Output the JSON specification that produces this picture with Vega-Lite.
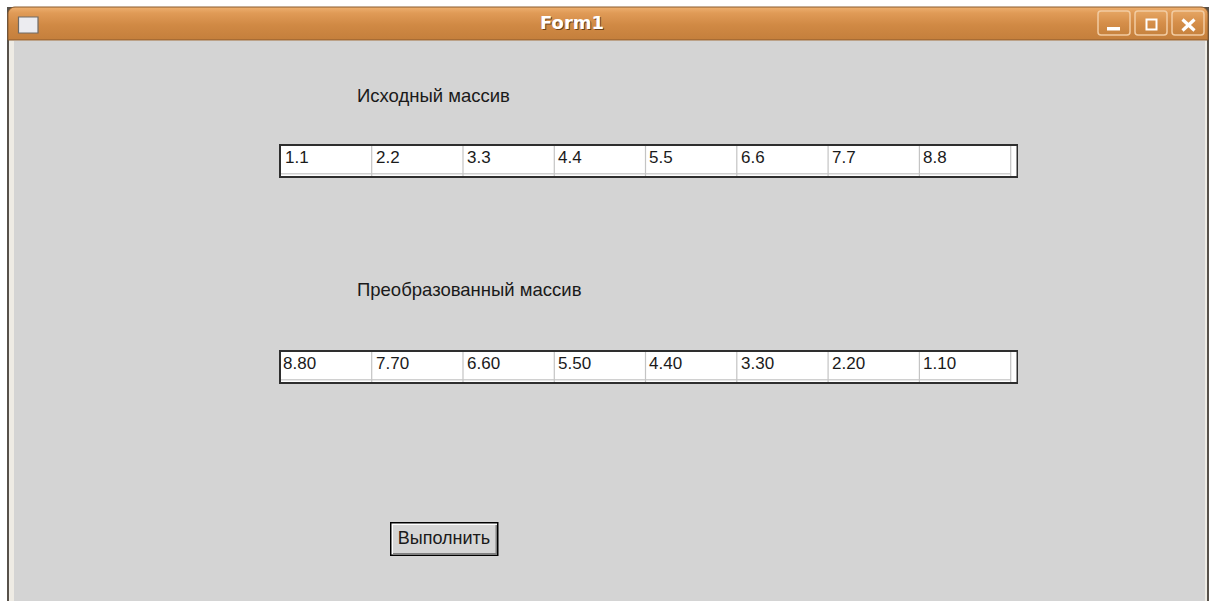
{
  "$schema": "https://vega.github.io/schema/vega-lite/v6.json",
  "width": 1212,
  "height": 601,
  "autosize": {"type": "fit", "contains": "padding"},
  "padding": 0,
  "background": "#ffffff",
  "config": {"view": {"stroke": null}},
  "datasets": {
    "rects": [
      {"x": 7, "x2": 1209, "y": 7, "y2": 601, "c": "#57514a"},
      {"x": 9, "x2": 1207, "y": 40, "y2": 601, "c": "#eeebe4"},
      {"x": 14, "x2": 1205, "y": 41, "y2": 601, "c": "#d4d4d4"},
      {"x": 279, "x2": 1018, "y": 144, "y2": 178, "c": "#2e2e2e"},
      {"x": 281, "x2": 1016.5, "y": 146, "y2": 176, "c": "#ffffff"},
      {"x": 281, "x2": 1011, "y": 173, "y2": 174.5, "c": "#d0d0d0"},
      {"x": 371.1, "x2": 372.3, "y": 146, "y2": 176, "c": "#c4c4c4"},
      {"x": 462.4, "x2": 463.6, "y": 146, "y2": 176, "c": "#c4c4c4"},
      {"x": 553.7, "x2": 554.9, "y": 146, "y2": 176, "c": "#c4c4c4"},
      {"x": 644.9, "x2": 646.1, "y": 146, "y2": 176, "c": "#c4c4c4"},
      {"x": 736.2, "x2": 737.4, "y": 146, "y2": 176, "c": "#c4c4c4"},
      {"x": 827.5, "x2": 828.7, "y": 146, "y2": 176, "c": "#c4c4c4"},
      {"x": 918.8, "x2": 920, "y": 146, "y2": 176, "c": "#c4c4c4"},
      {"x": 1010.1, "x2": 1011.3, "y": 146, "y2": 176, "c": "#c4c4c4"},
      {"x": 279, "x2": 1018, "y": 350, "y2": 384, "c": "#2e2e2e"},
      {"x": 281, "x2": 1016.5, "y": 352, "y2": 382, "c": "#ffffff"},
      {"x": 281, "x2": 1011, "y": 379, "y2": 380.5, "c": "#d0d0d0"},
      {"x": 371.1, "x2": 372.3, "y": 352, "y2": 382, "c": "#c4c4c4"},
      {"x": 462.4, "x2": 463.6, "y": 352, "y2": 382, "c": "#c4c4c4"},
      {"x": 553.7, "x2": 554.9, "y": 352, "y2": 382, "c": "#c4c4c4"},
      {"x": 644.9, "x2": 646.1, "y": 352, "y2": 382, "c": "#c4c4c4"},
      {"x": 736.2, "x2": 737.4, "y": 352, "y2": 382, "c": "#c4c4c4"},
      {"x": 827.5, "x2": 828.7, "y": 352, "y2": 382, "c": "#c4c4c4"},
      {"x": 918.8, "x2": 920, "y": 352, "y2": 382, "c": "#c4c4c4"},
      {"x": 1010.1, "x2": 1011.3, "y": 352, "y2": 382, "c": "#c4c4c4"},
      {"x": 390, "x2": 498.5, "y": 522, "y2": 556, "c": "#000000"},
      {"x": 391.5, "x2": 497, "y": 523.5, "y2": 554.5, "c": "#ffffff"},
      {"x": 393, "x2": 497, "y": 525, "y2": 554.5, "c": "#808080"},
      {"x": 393, "x2": 495.5, "y": 525, "y2": 553, "c": "#d6d6d6"}
    ],
    "titlebar": [{"x": 8, "x2": 1208, "y": 7, "y2": 40}],
    "winbtns": [
      {"x": 1098, "x2": 1130, "y": 11, "y2": 35},
      {"x": 1135, "x2": 1167, "y": 11, "y2": 35},
      {"x": 1172, "x2": 1204, "y": 11, "y2": 35}
    ],
    "glyphs": [
      {"x": 1107, "x2": 1120, "y": 27, "y2": 30.5, "c": "#ffffff"}
    ],
    "icon": [{"x": 18.5, "x2": 38, "y": 17, "y2": 33}],
    "maxbox": [{"x": 1146.5, "x2": 1156.5, "y": 19.5, "y2": 29.5}],
    "closex": [
      {"x": 1182.5, "x2": 1194.5, "y": 19.5, "y2": 30.5},
      {"x": 1194.5, "x2": 1182.5, "y": 19.5, "y2": 30.5}
    ],
    "title": [{"x": 572, "y": 23.5, "t": "Form1"}],
    "labels": [
      {"x": 357, "y": 96, "t": "Исходный массив"},
      {"x": 357, "y": 290, "t": "Преобразованный массив"}
    ],
    "cells": [
      {"x": 285, "y": 157.5, "t": "1.1"},
      {"x": 376, "y": 157.5, "t": "2.2"},
      {"x": 467, "y": 157.5, "t": "3.3"},
      {"x": 558, "y": 157.5, "t": "4.4"},
      {"x": 649, "y": 157.5, "t": "5.5"},
      {"x": 741, "y": 157.5, "t": "6.6"},
      {"x": 832, "y": 157.5, "t": "7.7"},
      {"x": 923, "y": 157.5, "t": "8.8"},
      {"x": 283, "y": 363.5, "t": "8.80"},
      {"x": 376, "y": 363.5, "t": "7.70"},
      {"x": 467, "y": 363.5, "t": "6.60"},
      {"x": 558, "y": 363.5, "t": "5.50"},
      {"x": 649, "y": 363.5, "t": "4.40"},
      {"x": 741, "y": 363.5, "t": "3.30"},
      {"x": 832, "y": 363.5, "t": "2.20"},
      {"x": 923, "y": 363.5, "t": "1.10"}
    ],
    "btntext": [{"x": 444, "y": 539, "t": "Выполнить"}]
  },
  "encoding": {
    "x": {"field": "x", "type": "quantitative", "scale": {"domain": [0, 1212], "nice": false, "zero": false}, "axis": null},
    "y": {"field": "y", "type": "quantitative", "scale": {"domain": [0, 601], "nice": false, "zero": false, "reverse": true}, "axis": null}
  },
  "layer": [
    {
      "data": {"name": "rects"},
      "mark": {"type": "rect"},
      "encoding": {
        "x2": {"field": "x2"},
        "y2": {"field": "y2"},
        "color": {"field": "c", "type": "nominal", "scale": null}
      }
    },
    {
      "data": {"name": "titlebar"},
      "mark": {
        "type": "rect",
        "cornerRadiusTopLeft": 7,
        "cornerRadiusTopRight": 7,
        "stroke": "#8a5a2c",
        "strokeWidth": 1,
        "color": {"gradient": "linear", "x1": 0, "y1": 0, "x2": 0, "y2": 1,
          "stops": [
            {"offset": 0, "color": "#eeb070"},
            {"offset": 0.18, "color": "#e09b57"},
            {"offset": 0.55, "color": "#d08944"},
            {"offset": 1, "color": "#c47f3c"}
          ]}
      },
      "encoding": {"x2": {"field": "x2"}, "y2": {"field": "y2"}}
    },
    {
      "data": {"name": "winbtns"},
      "mark": {
        "type": "rect",
        "cornerRadius": 3,
        "stroke": "#f2cca2",
        "strokeWidth": 1.5,
        "color": {"gradient": "linear", "x1": 0, "y1": 0, "x2": 0, "y2": 1,
          "stops": [
            {"offset": 0, "color": "#e6a664"},
            {"offset": 0.5, "color": "#d58e49"},
            {"offset": 1, "color": "#c6823e"}
          ]}
      },
      "encoding": {"x2": {"field": "x2"}, "y2": {"field": "y2"}}
    },
    {
      "data": {"name": "glyphs"},
      "mark": {"type": "rect"},
      "encoding": {
        "x2": {"field": "x2"},
        "y2": {"field": "y2"},
        "color": {"field": "c", "type": "nominal", "scale": null}
      }
    },
    {
      "data": {"name": "icon"},
      "mark": {"type": "rect", "fill": "#ececf0", "stroke": "#6f6a66", "strokeWidth": 1.2},
      "encoding": {"x2": {"field": "x2"}, "y2": {"field": "y2"}}
    },
    {
      "data": {"name": "maxbox"},
      "mark": {"type": "rect", "fill": "#d8914c", "fillOpacity": 0, "stroke": "#ffffff", "strokeWidth": 2},
      "encoding": {"x2": {"field": "x2"}, "y2": {"field": "y2"}}
    },
    {
      "data": {"name": "closex"},
      "mark": {"type": "rule", "color": "#ffffff", "strokeWidth": 3.2},
      "encoding": {"x2": {"field": "x2"}, "y2": {"field": "y2"}}
    },
    {
      "data": {"name": "title"},
      "mark": {"type": "text", "font": "DejaVu Sans", "fontWeight": "bold", "fontSize": 18, "align": "center", "baseline": "middle", "color": "#6e4119", "dx": 1, "dy": 1},
      "encoding": {"text": {"field": "t"}}
    },
    {
      "data": {"name": "title"},
      "mark": {"type": "text", "font": "DejaVu Sans", "fontWeight": "bold", "fontSize": 18, "align": "center", "baseline": "middle", "color": "#ffffff"},
      "encoding": {"text": {"field": "t"}}
    },
    {
      "data": {"name": "labels"},
      "mark": {"type": "text", "font": "Liberation Sans", "fontSize": 18.5, "align": "left", "baseline": "middle", "color": "#1a1a1a"},
      "encoding": {"text": {"field": "t"}}
    },
    {
      "data": {"name": "cells"},
      "mark": {"type": "text", "font": "Liberation Sans", "fontSize": 17, "align": "left", "baseline": "middle", "color": "#1a1a1a"},
      "encoding": {"text": {"field": "t"}}
    },
    {
      "data": {"name": "btntext"},
      "mark": {"type": "text", "font": "Liberation Sans", "fontSize": 18, "align": "center", "baseline": "middle", "color": "#1a1a1a"},
      "encoding": {"text": {"field": "t"}}
    }
  ]
}
